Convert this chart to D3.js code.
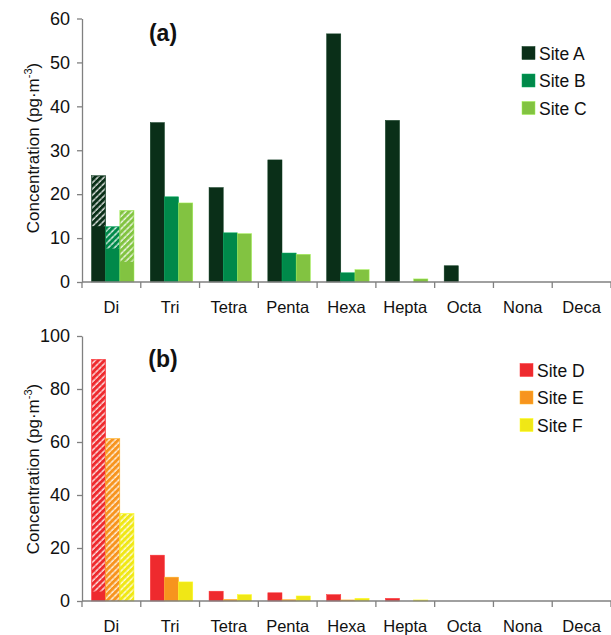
<!DOCTYPE html>
<html>
<head>
<meta charset="utf-8">
<script src="https://cdn.jsdelivr.net/npm/d3@7"></script>
<style>
  body { margin: 0; background: #fff; overflow: hidden; }
  text { font-family: "Liberation Sans", Arial, sans-serif; fill: #111; }
</style>
</head>
<body>
<script>
// data
const categories = ['Di', 'Tri', 'Tetra', 'Penta', 'Hexa', 'Hepta', 'Octa', 'Nona', 'Deca'];

const seriesTop = ['Site A', 'Site B', 'Site C'];
const siteA = [24.2, 36.3, 21.5, 27.8, 56.5, 36.8, 3.7, 0, 0];
const siteB = [12.6, 19.4, 11.2, 6.6, 2.1, 0, 0, 0, 0];
const siteC = [16.3, 18.0, 11.0, 6.3, 2.8, 0.7, 0, 0, 0];
// solid (non hatched) part of the Di bars
const diSolidTop = [12.7, 7.6, 4.6];
const ticksTop = [0, 10, 20, 30, 40, 50, 60];

const seriesBottom = ['Site D', 'Site E', 'Site F'];
const siteD = [91.2, 17.3, 3.7, 3.1, 2.4, 1.0, 0, 0, 0];
const siteE = [61.3, 9.0, 0.6, 0.5, 0.4, 0, 0, 0, 0];
const siteF = [33.0, 7.2, 2.4, 1.9, 1.0, 0.4, 0, 0, 0];
const diSolidBottom = [3.6, 0, 0];
const ticksBottom = [0, 20, 40, 60, 80, 100];

const colorsTop = ['#0a2f18', '#00894a', '#82c341'];
const colorsBottom = ['#ee2a2e', '#f7941e', '#f0e716'];

const WIDTH = 611, HEIGHT = 635;
const LEFT = 82, RIGHT = 611;
const FONT = '"Liberation Sans", Arial, sans-serif';

const svg = d3.select('body').append('svg')
    .attr('width', WIDTH)
    .attr('height', HEIGHT)
    .style('display', 'block');

// hatch pattern: white diagonal stripes over the bar colour
svg.append('defs').append('pattern')
    .attr('id', 'hatch')
    .attr('patternUnits', 'userSpaceOnUse')
    .attr('width', 4.4).attr('height', 4.4)
    .attr('patternTransform', 'rotate(45)')
  .append('line')
    .attr('x1', 1).attr('y1', 0).attr('x2', 1).attr('y2', 4.4)
    .attr('stroke', '#fff')
    .attr('stroke-width', 1.4)
    .attr('stroke-dasharray', '2.4 0.5')
    .attr('opacity', 0.9);

const x = d3.scaleBand().domain(categories).range([LEFT, RIGHT]);

function drawPanel(opt) {
  const g = svg.append('g');
  const y = d3.scaleLinear().domain([0, opt.max]).range([opt.y0, opt.y1]);
  const xs = d3.scaleBand().domain(opt.series).range([9.5, 52]);

  // bars
  opt.values.forEach((vals, si) => {
    vals.forEach((v, ci) => {
      if (v <= 0) return;
      const bx = x(categories[ci]) + xs(opt.series[si]);
      g.append('rect')
          .attr('x', bx).attr('y', y(v))
          .attr('width', xs.bandwidth()).attr('height', y(0) - y(v))
          .attr('fill', opt.colors[si])
          .attr('stroke', d3.color(opt.colors[si]).brighter(0.6))
          .attr('stroke-width', 0.5);
      if (ci === 0) {
        const s = opt.diSolid[si];
        g.append('rect')
            .attr('x', bx + 0.5).attr('y', y(v) + 0.5)
            .attr('width', xs.bandwidth() - 1).attr('height', y(s) - y(v) - 0.5)
            .attr('fill', 'url(#hatch)');
      }
    });
  });

  // y axis
  const ya = g.append('g')
      .attr('transform', `translate(${LEFT},0)`)
      .call(d3.axisLeft(y).tickValues(opt.ticks).tickSize(5).tickSizeOuter(0).tickPadding(7));
  ya.selectAll('path, line').attr('stroke', '#808080').attr('stroke-width', 1.3);
  ya.selectAll('text').attr('font-size', 18).attr('fill', '#111')
      .attr('font-family', FONT);

  // x axis: line + boundary ticks + centred labels
  g.append('line')
      .attr('x1', LEFT).attr('x2', RIGHT)
      .attr('y1', y(0)).attr('y2', y(0))
      .attr('stroke', '#808080').attr('stroke-width', 1.3);
  const bounds = categories.map(c => x(c)).concat([x.range()[1]]);
  g.selectAll('.xt').data(bounds).join('line')
      .attr('x1', d => d).attr('x2', d => d)
      .attr('y1', y(0)).attr('y2', y(0) + 6)
      .attr('stroke', '#808080').attr('stroke-width', 1.3);
  g.selectAll('.xl').data(categories).join('text')
      .attr('x', d => x(d) + x.bandwidth() / 2)
      .attr('y', y(0) + 31)
      .attr('text-anchor', 'middle')
      .attr('font-size', 16.5)
      .text(d => d);

  // y label
  const lab = g.append('text')
      .attr('transform', `translate(39,${opt.labelY}) rotate(-90)`)
      .attr('text-anchor', 'middle')
      .attr('font-size', 17);
  lab.append('tspan').text('Concentration (pg·m');
  lab.append('tspan').attr('dy', -7).attr('font-size', 11).text('-3');
  lab.append('tspan').attr('dy', 7).text(')');

  // panel title
  g.append('text')
      .attr('x', 163).attr('y', opt.titleY)
      .attr('text-anchor', 'middle')
      .attr('font-size', 23).attr('font-weight', 'bold')
      .text(opt.title);

  // legend
  const leg = g.selectAll('.leg').data(opt.series).join('g')
      .attr('transform', (d, i) => `translate(${opt.legX},${opt.legY + i * 27.5})`);
  leg.append('rect')
      .attr('x', 0).attr('y', -6.5).attr('width', 13).attr('height', 13)
      .attr('fill', (d, i) => opt.colors[i])
      .attr('stroke', (d, i) => d3.color(opt.colors[i]).brighter(0.6))
      .attr('stroke-width', 0.5);
  leg.append('text')
      .attr('x', 17).attr('y', 6.5)
      .attr('font-size', 17.5)
      .text(d => d);
}

drawPanel({
  series: seriesTop, values: [siteA, siteB, siteC], colors: colorsTop,
  diSolid: diSolidTop, ticks: ticksTop, max: 60,
  y0: 282, y1: 18.5, labelY: 148, title: '(a)', titleY: 41,
  legX: 522, legY: 53
});

drawPanel({
  series: seriesBottom, values: [siteD, siteE, siteF], colors: colorsBottom,
  diSolid: diSolidBottom, ticks: ticksBottom, max: 100,
  y0: 601, y1: 336, labelY: 469, title: '(b)', titleY: 367,
  legX: 520, legY: 370
});
</script>
</body>
</html>
